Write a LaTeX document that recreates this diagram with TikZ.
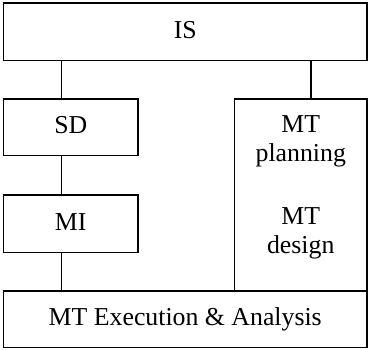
\documentclass[tikz,border=0pt]{standalone}
\usepackage{fontspec}
\setmainfont{Liberation Serif}
\begin{document}
\begin{tikzpicture}[x=1pt,y=-1pt,
  box/.style={draw,line width=1.9pt,rectangle,inner sep=0pt,text height=19pt,text depth=6pt,font=\fontsize{25.8}{29}\selectfont},
  plain/.style={draw,line width=1.9pt,rectangle,inner sep=0pt},
  lbl/.style={inner sep=0pt,align=center,font=\fontsize{25.8}{29}\selectfont},
  conn/.style={line width=1.9pt}]
\useasboundingbox (0,0) rectangle (369,349);
\node[box,minimum width=363.5pt,minimum height=57.5pt] (is) at (185.25,31.75) {IS};
\node[box,minimum width=134.5pt,minimum height=56.5pt] (sd) at (70.75,127.25) {SD};
\node[box,minimum width=134.5pt,minimum height=57.5pt] (mi) at (70.75,223.75) {MI};
\node[plain,minimum width=132.5pt,minimum height=192pt] (mt) at (300.75,195) {};
\node[box,minimum width=363.5pt,minimum height=56.5pt] (ex) at (185.25,319.25) {MT Execution \& Analysis};
\node[lbl] (plan) at (300.75,141.8) {MT\\planning};
\node[lbl] (des) at (300.75,233.8) {MT\\design};
\coordinate (a1) at (61.5,60.5);
\coordinate (a2) at (311,60.5);
\draw[conn] (is.south -| a1) -- (sd.north -| a1);
\draw[conn] (sd.south -| a1) -- (mi.north -| a1);
\draw[conn] (mi.south -| a1) -- (ex.north -| a1);
\draw[conn] (is.south -| a2) -- (mt.north -| a2);
\end{tikzpicture}
\end{document}
